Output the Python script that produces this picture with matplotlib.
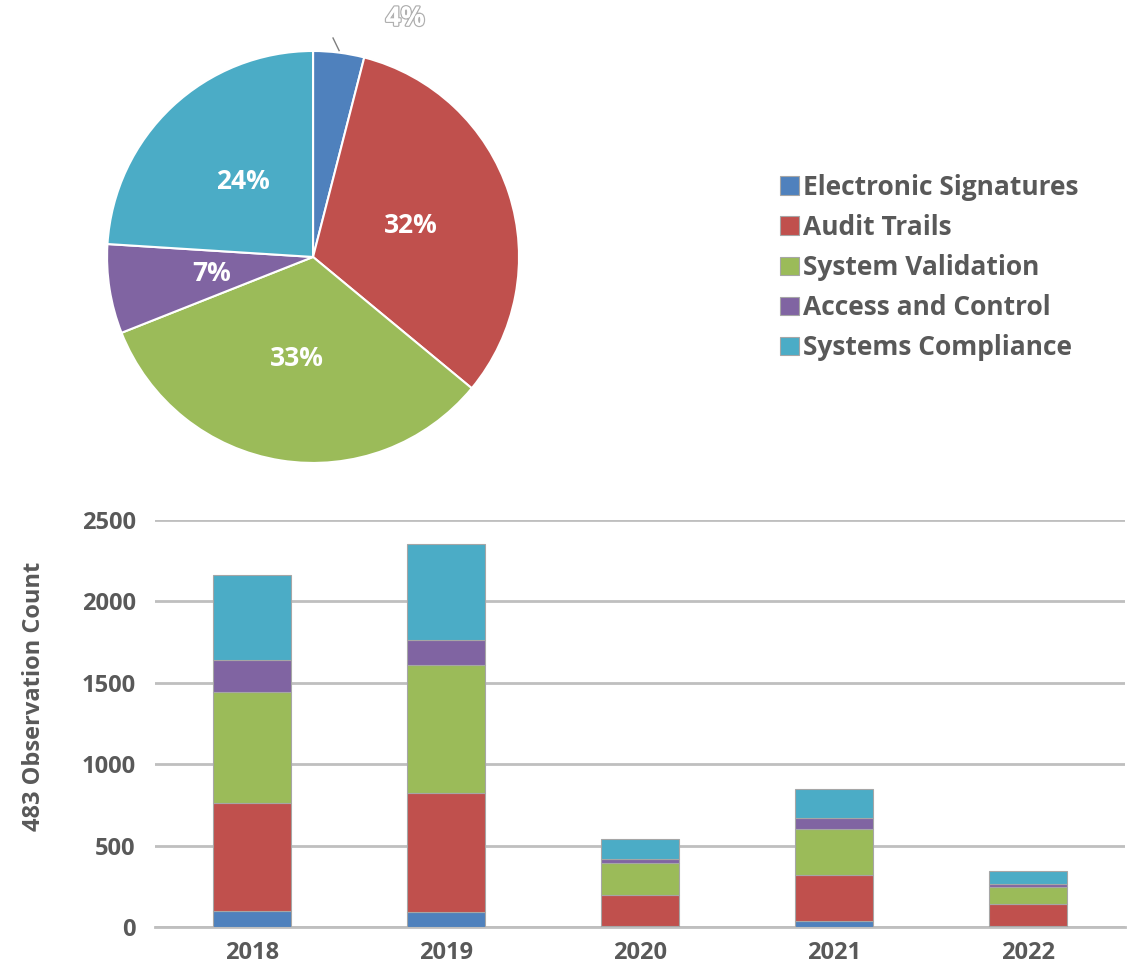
import matplotlib.pyplot as plt
import matplotlib.patheffects as pe
import numpy as np

plt.rcParams["font.family"] = ["Open Sans", "DejaVu Sans"]
plt.rcParams["font.weight"] = "bold"

CATEGORIES = ["Electronic Signatures", "Audit Trails", "System Validation",
              "Access and Control", "Systems Compliance"]
COLORS = ["#4F81BD", "#C0504D", "#9BBB59", "#8064A2", "#4BACC6"]
PIE_SHARE = [4, 32, 33, 7, 24]

YEARS = ["2018", "2019", "2020", "2021", "2022"]
ELECTRONIC_SIGNATURES = [98, 92, 8, 35, 5]
AUDIT_TRAILS = [664, 731, 190, 286, 136]
SYSTEM_VALIDATION = [683, 785, 194, 281, 104]
ACCESS_AND_CONTROL = [192, 153, 27, 65, 18]
SYSTEMS_COMPLIANCE = [522, 590, 122, 178, 82]

TEXT_GREY = "#595959"

fig = plt.figure(figsize=(11.34, 9.73), dpi=100)

# pie chart (top left)
ax_pie = fig.add_axes([0.0944, 0.5242, 0.3633, 0.4234])
wedges, _, autotexts = ax_pie.pie(
    PIE_SHARE, colors=COLORS, startangle=90, counterclock=False,
    autopct=lambda p: f"{p:.0f}%" if p > 5 else "", pctdistance=0.5,
    wedgeprops=dict(edgecolor="white", linewidth=1.5),
    textprops=dict(color="white", fontsize=19, fontweight="bold"))
ax_pie.set_xlim(-1, 1)
ax_pie.set_ylim(-1, 1)
ax_pie.set_aspect("equal")

# small slice gets an outside label with a short leader line
small = wedges[0]
mid = np.deg2rad((small.theta1 + small.theta2) / 2)
ax_pie.plot([1.01 * np.cos(mid), 0.097], [1.01 * np.sin(mid), 1.063],
            color="#7f7f7f", lw=1, clip_on=False)
ax_pie.text(0.447, 1.16, f"{PIE_SHARE[0]}%", ha="center", va="center",
            fontsize=19, fontweight="bold", color="white",
            path_effects=[pe.withStroke(linewidth=2, foreground="#b0b0b0"),
                          pe.Normal()])

# stacked bars (bottom)
ax = fig.add_axes([0.1367, 0.0473, 0.8554, 0.4183])
series = [ELECTRONIC_SIGNATURES, AUDIT_TRAILS, SYSTEM_VALIDATION,
          ACCESS_AND_CONTROL, SYSTEMS_COMPLIANCE]
x = np.arange(len(YEARS))
bottom = np.zeros(len(YEARS))
handles = []
for name, vals, col in zip(CATEGORIES, series, COLORS):
    bars = ax.bar(x, vals, 0.4, bottom=bottom, color=col, edgecolor="#a6a6a6",
                  linewidth=0.8, label=name, zorder=3)
    handles.append(bars)
    bottom += np.array(vals)

ax.set_xlim(-0.5, len(YEARS) - 0.5)
ax.set_ylim(0, 2500)
ax.set_yticks(range(0, 2501, 500))
ax.set_xticks(x)
ax.set_xticklabels(YEARS)
ax.yaxis.grid(True, color="#bfbfbf", linewidth=2, zorder=0)
ax.tick_params(axis="both", length=0, labelsize=17, labelcolor=TEXT_GREY)
ax.tick_params(axis="y", pad=14)
ax.tick_params(axis="x", pad=10)
for lab in ax.get_xticklabels() + ax.get_yticklabels():
    lab.set_fontweight("bold")
for side in ["top", "right", "left"]:
    ax.spines[side].set_visible(False)
ax.spines["bottom"].set_color("#bfbfbf")
ax.spines["bottom"].set_linewidth(2)
ax.set_ylabel("483 Observation Count", fontsize=17, fontweight="bold",
              color=TEXT_GREY)
ax.yaxis.set_label_coords(-0.112, 0.567)

# legend (top right)
leg = fig.legend(handles=[h[0] for h in handles], labels=CATEGORIES,
                 loc="upper left", bbox_to_anchor=(0.667, 0.846), frameon=False,
                 fontsize=19, handlelength=0.7, handleheight=0.7,
                 handletextpad=0.15, labelspacing=0.5)
for t in leg.get_texts():
    t.set_color(TEXT_GREY)
    t.set_fontweight("bold")

fig.savefig("out.png", dpi=100)
